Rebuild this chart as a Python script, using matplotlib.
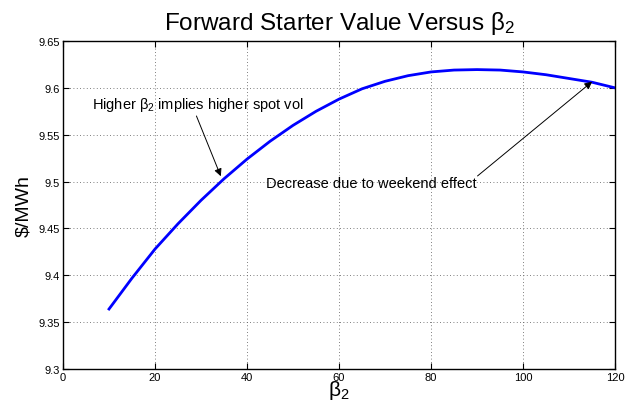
import matplotlib
matplotlib.use("Agg")
import matplotlib.pyplot as plt

plt.rcParams["font.family"] = ["Liberation Sans", "DejaVu Sans"]
plt.rcParams["mathtext.fontset"] = "custom"
plt.rcParams["mathtext.rm"] = "Liberation Sans"
plt.rcParams["mathtext.it"] = "Liberation Sans"
plt.rcParams["mathtext.bf"] = "Liberation Sans:bold"

# values
beta2 = [10, 15, 20, 25, 30, 35, 40, 45, 50, 55, 60, 65, 70, 75, 80,
         85, 90, 95, 100, 105, 110, 115, 120]
value = [9.364, 9.397, 9.428, 9.455, 9.480, 9.503, 9.524, 9.543, 9.560,
         9.575, 9.588, 9.599, 9.607, 9.613, 9.617, 9.619, 9.6195, 9.619,
         9.617, 9.614, 9.610, 9.606, 9.600]
xticks = [0, 20, 40, 60, 80, 100, 120]
yticks = [9.3, 9.35, 9.4, 9.45, 9.5, 9.55, 9.6, 9.65]
ytick_labels = ["9.3", "9.35", "9.4", "9.45", "9.5", "9.55", "9.6", "9.65"]

fig = plt.figure(figsize=(6.27, 4.02), dpi=100)
ax = fig.add_axes([0.1005, 0.0796, 0.8805, 0.8159])

ax.plot(beta2, value, color="#0000ff", lw=2)

ax.set_xlim(0, 120)
ax.set_ylim(9.3, 9.65)
ax.set_xticks(xticks)
ax.set_yticks(yticks)
ax.set_yticklabels(ytick_labels)
ax.tick_params(direction="in", top=True, right=True, labelsize=8, length=4, pad=2)
ax.grid(True, linestyle=(0, (1, 3)), color="#555555", lw=0.6)
for s in ax.spines.values():
    s.set_linewidth(1.0)

ax.set_title(r"Forward Starter Value Versus $\beta_2$", fontsize=17.5, pad=9)
ax.set_ylabel("$/MWh", fontsize=14, labelpad=5)
ax.set_xlabel(r"$\beta_2$", fontsize=15, labelpad=-3)

arrow = dict(arrowstyle="-|>", color="k", lw=0.7, mutation_scale=11,
             shrinkA=0, shrinkB=0)
ax.text(6.2, 9.583, r"Higher $\beta_2$ implies higher spot vol", fontsize=10.5,
        ha="left", va="center")
ax.annotate("", xy=(34.3, 9.5057), xytext=(29.0, 9.570), arrowprops=arrow)
ax.text(44.2, 9.4985, "Decrease due to weekend effect", fontsize=10.5,
        ha="left", va="center")
ax.annotate("", xy=(115, 9.6066), xytext=(90.1, 9.506), arrowprops=arrow)

fig.savefig("out.png", dpi=100)
